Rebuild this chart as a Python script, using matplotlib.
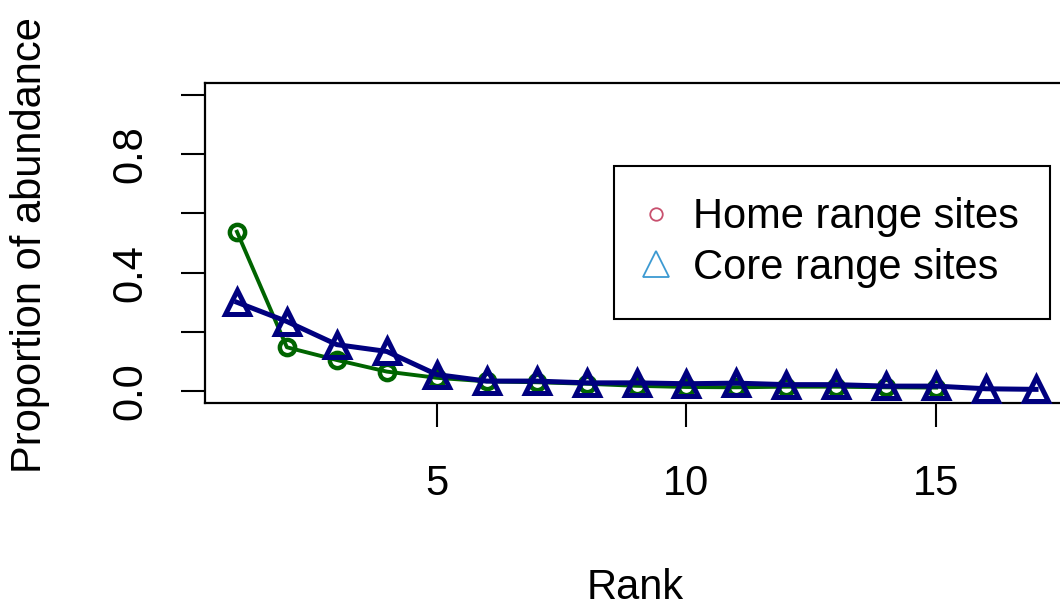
import matplotlib
matplotlib.use("Agg")
import matplotlib.pyplot as plt
from matplotlib.lines import Line2D

plt.rcParams['font.family'] = ['Liberation Sans', 'DejaVu Sans']

# Rank-abundance data
rank_home = list(range(1, 16))
home_prop = [0.538, 0.148, 0.105, 0.066, 0.045, 0.033, 0.030, 0.025,
             0.018, 0.014, 0.013, 0.015, 0.015, 0.013, 0.012]
rank_core = list(range(1, 18))
core_prop = [0.300, 0.235, 0.157, 0.134, 0.056, 0.034, 0.034, 0.028,
             0.028, 0.025, 0.027, 0.022, 0.022, 0.017, 0.017, 0.008, 0.006]

x_ticks = [5, 10, 15]
y_ticks = [0.0, 0.2, 0.4, 0.6, 0.8, 1.0]
y_tick_labels = ["0.0", "", "0.4", "", "0.8", ""]
legend_labels = ["Home range sites", "Core range sites"]

W, H = 1060, 606
fig = plt.figure(figsize=(W / 100, H / 100), dpi=100)
left, right, top, bottom = 205, 1068, 83, 403
ax = fig.add_axes([left / W, 1 - bottom / H, (right - left) / W, (bottom - top) / H])

green = '#006400'
navy = '#00007F'

ax.plot(rank_home, home_prop, color=green, lw=2.8, marker='o', ms=11,
        mfc='none', mec=green, mew=3.2, zorder=3)
ax.plot(rank_core, core_prop, color=navy, lw=3.6, marker='^', ms=17,
        mfc='none', mec=navy, mew=3.6, zorder=4)

ax.set_xlim(0.36, 17.64)
ax.set_ylim(-0.04, 1.04)
ax.set_xticks(x_ticks)
ax.set_yticks(y_ticks)
ax.set_yticklabels(y_tick_labels)

for s in ax.spines.values():
    s.set_linewidth(1.6)
    s.set_color('black')

ax.tick_params(axis='both', direction='out', length=17, width=1.5,
               labelsize=30, colors='black')
ax.tick_params(axis='x', pad=27)
ax.tick_params(axis='y', pad=22, labelrotation=90)
for lab in ax.get_yticklabels():
    lab.set_verticalalignment('center')

ax.set_xlabel("Rank", fontsize=30)
ax.set_ylabel("Proportion of abundance", fontsize=30)
ax.xaxis.set_label_coords((635 - left) / (right - left), (bottom - 588) / (bottom - top))
ax.xaxis.label.set_verticalalignment('center')
ax.yaxis.set_label_coords((30 - left) / (right - left), (bottom - 245) / (bottom - top))
ax.yaxis.label.set_verticalalignment('center')

handles = [
    Line2D([], [], ls='none', marker='o', ms=9, mfc='none', mec='#C8506E', mew=1.3),
    Line2D([], [], ls='none', marker='^', ms=19, mfc='none', mec='#3C9AD2', mew=1.3),
]
leg = ax.legend(handles, legend_labels, loc='upper left',
                bbox_to_anchor=(614 / W, 1 - 166 / H), bbox_transform=fig.transFigure,
                borderaxespad=0, fontsize=30, frameon=True, fancybox=False,
                framealpha=1, edgecolor='black', borderpad=0.75,
                handlelength=0.5, handletextpad=0.65, labelspacing=0.25)
leg.get_frame().set_linewidth(1.5)

fig.savefig("out.png", dpi=100)
